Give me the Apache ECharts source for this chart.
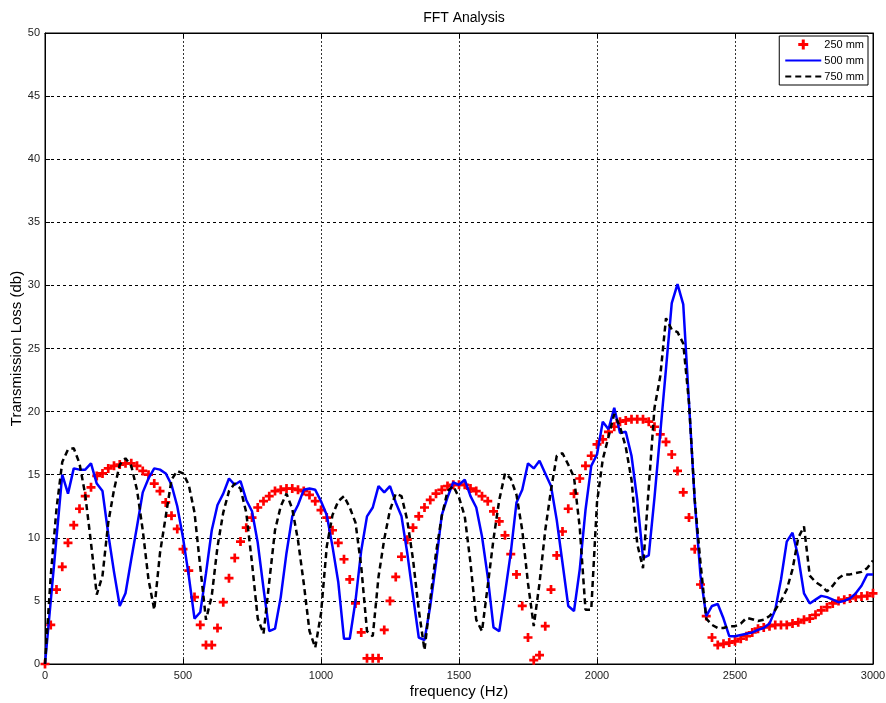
<!DOCTYPE html>
<html>
<head>
<meta charset="utf-8">
<script src="https://cdn.jsdelivr.net/npm/echarts@6/dist/echarts.min.js"></script>
<style>
  html, body { margin: 0; padding: 0; background: #ffffff; }
  #chart { width: 886px; height: 703px; }
</style>
</head>
<body>
<div id="chart"></div>
<script>
// Spectrum bins: 145 bins spanning 0 to 3000 Hz
const FREQ_STEP = 3000 / 144;

// Transmission loss (dB) per bin for each duct length
const tl250 = [
  0, 3.1, 5.9, 7.7, 9.6, 11.0, 12.3, 13.3, 14.0, 14.9,
  15.1, 15.5, 15.7, 15.8, 15.9, 15.9, 15.7, 15.3, 15.0, 14.3,
  13.7, 12.8, 11.75, 10.7, 9.1, 7.4, 5.3, 3.1, 1.5, 1.5,
  2.85, 4.9, 6.8, 8.4, 9.7, 10.8, 11.6, 12.4, 12.9, 13.3,
  13.7, 13.8, 13.9, 13.9, 13.8, 13.7, 13.4, 12.9, 12.2, 11.6,
  10.6, 9.6, 8.3, 6.7, 4.8, 2.5, 0.45, 0.45, 0.45, 2.7,
  5.0, 6.9, 8.5, 9.85, 10.8, 11.7, 12.4, 13.0, 13.5, 13.8,
  14.1, 14.2, 14.2, 14.2, 13.9, 13.7, 13.3, 12.9, 12.1, 11.3,
  10.2, 8.7, 7.1, 4.6, 2.1, 0.3, 0.7, 3.0, 5.9, 8.6,
  10.5, 12.3, 13.5, 14.7, 15.7, 16.5, 17.4, 17.8, 18.4, 18.8,
  19.2, 19.3, 19.4, 19.4, 19.4, 19.2, 18.8, 18.2, 17.6, 16.6,
  15.3, 13.6, 11.6, 9.1, 6.3, 3.8, 2.1, 1.5, 1.6, 1.7,
  1.8, 2.0, 2.2, 2.5, 2.8, 2.9, 3.0, 3.1, 3.1, 3.1,
  3.2, 3.3, 3.5, 3.6, 3.9, 4.25, 4.5, 4.8, 5.0, 5.1,
  5.2, 5.3, 5.35, 5.4, 5.6
];

const tl500 = [
  0, 5.0, 10.0, 15.0, 13.5, 15.5, 15.4, 15.4, 15.9, 14.3,
  13.7, 10.3, 7.3, 4.6, 5.6, 8.3, 10.9, 13.6, 14.7, 15.5,
  15.4, 15.1, 14.2, 12.5, 10.0, 7.0, 3.6, 4.1, 7.2, 10.6,
  12.6, 13.5, 14.7, 14.2, 14.5, 13.0, 12.1, 9.6, 6.0, 2.6,
  2.8, 5.3, 8.8, 11.7, 12.6, 13.8, 13.9, 13.8, 12.9, 11.8,
  9.3, 6.5, 2.0, 2.0, 5.0, 9.0, 11.7, 12.4, 14.1, 13.6,
  14.1, 12.8, 11.7, 8.8, 5.4, 2.1, 1.9, 4.6, 8.0, 11.8,
  13.2, 14.4, 14.2, 14.6, 13.3, 12.4, 10.1, 6.9, 2.9, 2.6,
  5.6, 8.8, 12.8, 13.8, 15.9, 15.5, 16.1, 15.1, 14.1, 11.4,
  8.0, 4.6, 4.2, 7.5, 12.2, 15.7, 16.6, 19.2, 18.6, 20.3,
  18.3, 18.4, 16.5, 13.0, 8.4, 8.6, 13.2, 18.3, 23.4, 28.6,
  30.1, 28.5, 20.7, 12.9, 7.0, 3.8, 4.6, 4.75, 3.6, 2.2,
  2.2, 2.3, 2.4, 2.5, 2.7, 2.85, 3.2, 4.3, 6.7, 9.7,
  10.4, 8.5, 5.6, 4.8, 5.1, 5.4, 5.3, 5.1, 4.9, 5.0,
  5.2, 5.6, 6.2, 7.1, 7.1
];

const tl750 = [
  0, 7.0, 12.3, 16.0, 17.0, 17.1, 15.9, 13.4, 9.6, 5.5,
  7.0, 11.2, 13.8, 15.8, 16.3, 15.7, 13.8, 10.6, 6.7, 4.3,
  8.8, 11.7, 14.6, 15.3, 15.1, 14.2, 12.0, 7.7, 3.5, 5.4,
  9.3, 12.0, 13.7, 14.3, 13.9, 12.0, 8.0, 3.6, 2.4, 6.5,
  10.6, 12.5, 13.5, 12.3, 9.8, 6.4, 2.6, 1.3, 4.0, 9.3,
  11.8, 12.9, 13.3, 12.4, 11.2, 7.7, 2.6, 2.2, 6.9, 9.9,
  12.2, 13.5, 13.3, 11.4, 8.3, 4.3, 1.1, 5.1, 8.8, 11.7,
  13.7, 14.1, 13.2, 11.7, 8.0, 3.5, 2.6, 6.2, 9.9, 13.0,
  15.1, 14.7, 13.4, 10.6, 6.4, 3.0, 6.4, 10.6, 13.8, 16.5,
  16.7, 15.8, 14.8, 10.8, 4.3, 4.3, 12.8, 16.2, 18.0, 19.8,
  18.8, 17.2, 14.6, 9.5, 7.6, 14.0, 20.3, 22.8, 27.4, 26.5,
  26.3, 25.4, 20.7, 13.0, 8.0, 3.6, 3.1, 2.85, 2.85, 3.0,
  3.0, 3.2, 3.65, 3.55, 3.4, 3.5, 3.8, 4.3, 5.0, 5.9,
  7.5, 10.0, 10.9, 7.0, 6.5, 6.2, 5.75, 6.2, 6.8, 7.1,
  7.1, 7.2, 7.3, 7.6, 8.2
];

const seriesNames = ['250 mm', '500 mm', '750 mm'];

// Pair every value with the centre frequency of its bin
function toPoints(values) {
  return values.map((v, i) => [i * FREQ_STEP, v]);
}

const FONT = '"Liberation Sans", Arial, sans-serif';
const PLUS = 'path://M2.8,0H5.2V2.8H8V5.2H5.2V8H2.8V5.2H0V2.8H2.8Z';

const gridLineY = { show: true, lineStyle: { color: '#000', width: 1, type: [3, 3] } };
const gridLineX = { show: true, lineStyle: { color: '#333', width: 1, type: [2, 2] } };
const tickIn = { show: true, inside: true, length: 5, lineStyle: { color: '#000' } };
const plainNumber = (v) => String(v);

const chart = echarts.init(document.getElementById('chart'), null, { renderer: 'canvas' });

chart.setOption({
  animation: false,
  backgroundColor: '#ffffff',
  textStyle: { fontFamily: FONT },
  title: {
    text: 'FFT Analysis',
    left: 459,
    top: 6,
    textAlign: 'center',
    textStyle: { fontFamily: FONT, fontSize: 14, fontWeight: 'normal', color: '#000' }
  },
  grid: {
    left: 45, top: 33, right: 13, bottom: 39,
    containLabel: false,
    outerBoundsMode: 'none',
    show: true, borderColor: '#000', borderWidth: 1, backgroundColor: '#fff'
  },
  legend: {
    orient: 'vertical',
    right: 18,
    top: 36,
    backgroundColor: '#fff',
    borderColor: '#000',
    borderWidth: 1,
    borderRadius: 0,
    padding: [3, 4, 3, 5],
    itemGap: 5,
    itemWidth: 36,
    itemHeight: 10,
    textStyle: { fontFamily: FONT, fontSize: 11, color: '#000', padding: [0, 0, 0, -2] },
    data: [
      { name: seriesNames[0], icon: PLUS, itemStyle: { opacity: 1 } },
      { name: seriesNames[1], itemStyle: { opacity: 0 } },
      { name: seriesNames[2], itemStyle: { opacity: 0 } }
    ]
  },
  xAxis: [
    {
      type: 'value', position: 'bottom', min: 0, max: 3000, interval: 500,
      name: 'frequency (Hz)', nameLocation: 'middle', nameGap: 20,
      nameMoveOverlap: false,
      nameTextStyle: { fontFamily: FONT, fontSize: 15, color: '#000' },
      axisLine: { show: true, onZero: false, lineStyle: { color: '#000' } },
      axisTick: tickIn,
      axisLabel: { fontFamily: FONT, fontSize: 11, color: '#222', margin: 6, formatter: plainNumber },
      splitLine: gridLineX
    },
    {
      type: 'value', position: 'top', min: 0, max: 3000, interval: 500,
      axisLine: { show: true, onZero: false, lineStyle: { color: '#000' } },
      axisTick: tickIn, axisLabel: { show: false }, splitLine: { show: false }
    }
  ],
  yAxis: [
    {
      type: 'value', position: 'left', min: 0, max: 50, interval: 5,
      name: 'Transmission Loss (db)', nameLocation: 'middle', nameGap: 21,
      nameMoveOverlap: false,
      nameTextStyle: { fontFamily: FONT, fontSize: 15, color: '#000' },
      axisLine: { show: true, onZero: false, lineStyle: { color: '#000' } },
      axisTick: tickIn,
      axisLabel: { fontFamily: FONT, fontSize: 11, color: '#222', margin: 5, formatter: plainNumber },
      splitLine: gridLineY
    },
    {
      type: 'value', position: 'right', min: 0, max: 50, interval: 5,
      axisLine: { show: true, onZero: false, lineStyle: { color: '#000' } },
      axisTick: tickIn, axisLabel: { show: false }, splitLine: { show: false }
    }
  ],
  series: [
    {
      name: seriesNames[0],
      type: 'scatter',
      data: toPoints(tl250),
      symbol: PLUS,
      symbolSize: 9,
      itemStyle: { color: '#ff0000', opacity: 1 },
      z: 2
    },
    {
      name: seriesNames[1],
      type: 'line',
      data: toPoints(tl500),
      symbol: 'none',
      lineStyle: { color: '#0000ff', width: 2.5 },
      itemStyle: { color: '#0000ff' },
      z: 3
    },
    {
      name: seriesNames[2],
      type: 'line',
      data: toPoints(tl750),
      symbol: 'none',
      lineStyle: { color: '#000000', width: 2.5, type: [6, 4] },
      itemStyle: { color: '#000000' },
      z: 4
    }
  ]
});
</script>
</body>
</html>
